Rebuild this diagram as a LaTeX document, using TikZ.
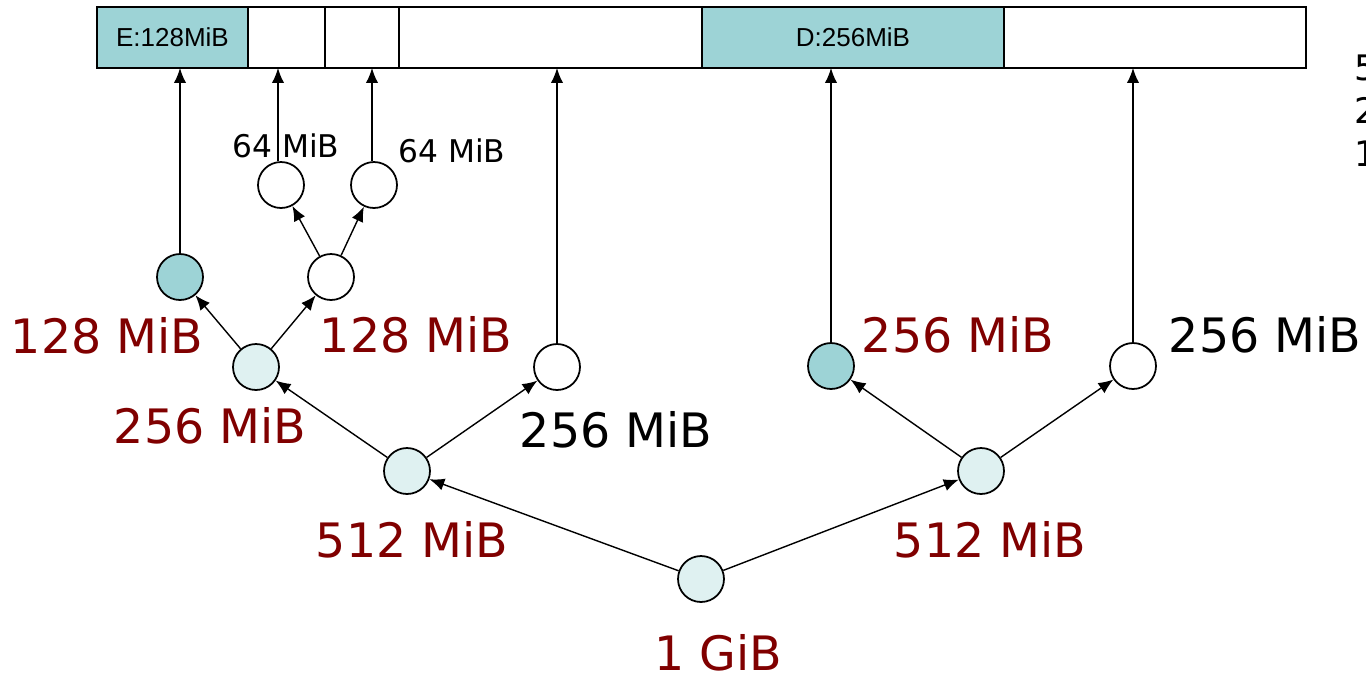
\documentclass[tikz,border=0pt]{standalone}
\usepackage{fontspec}
\setmainfont{DejaVu Sans}
\newfontfamily\arialf{Liberation Sans}
\usetikzlibrary{arrows.meta,calc}
\definecolor{teal1}{HTML}{9DD3D6}
\definecolor{light1}{HTML}{DFF1F1}
\definecolor{dred}{HTML}{800000}
\tikzset{
  seg/.style={draw=black,line width=0.85pt,rectangle,inner sep=0pt,outer sep=0pt,minimum height=1.22cm,anchor=north west,font=\arialf\fontsize{14.8}{16}\selectfont},
  nd/.style={draw=black,line width=1pt,circle,inner sep=0pt,minimum size=0.92cm,fill=white},
  ndl/.style={nd,fill=light1},
  ndt/.style={nd,fill=teal1},
  arr/.style={line width=0.8pt,-{Latex[length=8.5pt,width=7pt]}},
  big/.style={font=\fontsize{27}{30}\selectfont,anchor=base,inner sep=0pt},
  small/.style={font=\fontsize{17.8}{20}\selectfont,anchor=base,inner sep=0pt},
  leg/.style={font=\fontsize{20}{22}\selectfont,anchor=base west,inner sep=0pt}
}
\begin{document}
\begin{tikzpicture}[x=0.02cm,y=-0.02cm]
\clip (0,0) rectangle (1366,677);
% bar
\node[seg,fill=teal1,minimum width=3.02cm] (sE) at (97,7) {E:128MiB};
\node[seg,minimum width=1.54cm] (s2) at (248,7) {};
\node[seg,minimum width=1.48cm] (s3) at (325,7) {};
\node[seg,minimum width=6.06cm] (s4) at (399,7) {};
\node[seg,fill=teal1,minimum width=6.04cm] (sD) at (702,7) {D:256MiB};
\node[seg,minimum width=6.04cm] (s6) at (1004,7) {};
% tree nodes
\node[ndl] (root) at (701,579) {};
\node[ndl] (l512) at (407,471) {};
\node[ndl] (r512) at (981,471) {};
\node[ndl] (l256) at (256,367) {};
\node[nd]  (w256) at (557,367) {};
\node[ndt] (d256) at (831,366) {};
\node[nd]  (x256) at (1133,366) {};
\node[ndt] (e128) at (180,277) {};
\node[nd]  (w128) at (331,277) {};
\node[nd]  (a64) at (281,185) {};
\node[nd]  (b64) at (374,185) {};
% tree arrows
\draw[arr] (root) -- (l512);
\draw[arr] (root) -- (r512);
\draw[arr] (l512) -- (l256);
\draw[arr] (l512) -- (w256);
\draw[arr] (r512) -- (d256);
\draw[arr] (r512) -- (x256);
\draw[arr] (l256) -- (e128);
\draw[arr] (l256) -- (w128);
\draw[arr] (w128) -- (a64);
\draw[arr] (w128) -- (b64);
% vertical arrows to bar
\draw[arr] (e128.north) -- (e128.north |- sE.south);
\draw[arr] ([xshift=-0.06cm]a64.north) -- ([xshift=-0.06cm]a64.north |- s2.south);
\draw[arr] ([xshift=-0.04cm]b64.north) -- ([xshift=-0.04cm]b64.north |- s3.south);
\draw[arr] (w256.north) -- (w256.north |- s4.south);
\draw[arr] (d256.north) -- (d256.north |- sD.south);
\draw[arr] (x256.north) -- (x256.north |- s6.south);
% labels
\node[big,text=dred] (t1) at (107,353) {128 MiB};
\node[big,text=dred] (t2) at (416,352) {128 MiB};
\node[big,text=dred] (t3) at (210,443) {256 MiB};
\node[big] (t4) at (616,447) {256 MiB};
\node[big,text=dred] (t5) at (412,557) {512 MiB};
\node[big,text=dred] (t6) at (990,557) {512 MiB};
\node[big,text=dred] (t7) at (718,670) {1 GiB};
\node[big,text=dred] (t8) at (958,352) {256 MiB};
\node[big] (t9) at (1265,352) {256 MiB};
\node[small] (t10) at (286,157) {64 MiB};
\node[small] (t11) at (452,162) {64 MiB};
% legend (cut off at right edge, as in the reference)
\node[leg] (g1) at (1354,80) {512 MiB};
\node[leg] (g2) at (1354,123) {256 MiB};
\node[leg] (g3) at (1354,166) {128 MiB};
\end{tikzpicture}
\end{document}
